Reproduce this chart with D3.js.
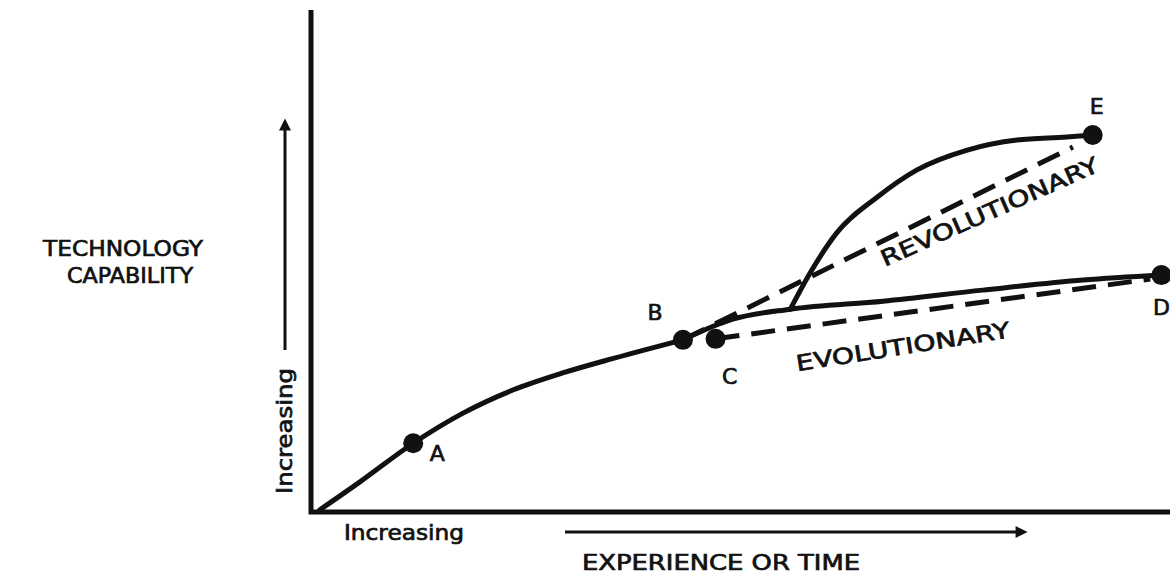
<!DOCTYPE html>
<html>
<head>
<meta charset="utf-8">
<script src="https://cdn.jsdelivr.net/npm/d3@7"></script>
<style>
    body { margin: 0; background: #fff; }
    svg { display: block; }
    text { font-family: "DejaVu Sans", sans-serif; fill: #111; stroke: #111; stroke-width: 0.7px; }
</style>
</head>
<body>
<div class="chart"></div>
<script>
// curve (x = experience/time, y = capability, both 0..100)
const baseX = [1.0, 5.7, 11.9, 17.7, 23.5, 29.3, 35.2, 43.3];
const baseY = [0.4, 6.0, 13.7, 19.7, 24.3, 27.7, 30.6, 34.3];

const evoX = [43.3, 49.1, 55.8, 66.6, 78.2, 89.9, 99.0];
const evoY = [34.3, 38.4, 40.4, 42.0, 44.2, 46.2, 47.2];

const revX = [55.8, 58.1, 61.2, 65.9, 70.5, 76.4, 82.2, 88.0, 91.0];
const revY = [40.4, 47.6, 55.6, 62.7, 68.1, 72.1, 74.1, 74.7, 75.1];

// dashed trend lines (start, end)
const revTrendX = [43.3, 88.7];
const revTrendY = [34.3, 72.7];
const evoTrendX = [47.1, 97.7];
const evoTrendY = [34.5, 46.4];

const pointNames = ["A", "B", "C", "D", "E"];
const pointX = [11.9, 43.3, 47.1, 99.0, 91.0];
const pointY = [13.7, 34.3, 34.5, 47.2, 75.1];

const trendLabels = ["REVOLUTIONARY", "EVOLUTIONARY"];
const trendLabelX = [79.0, 68.9];
const trendLabelY = [59.8, 32.9];

const width = 1170;
const height = 576;

const xScale = d3.scaleLinear().domain([0, 100]).range([311, 1170]);
const yScale = d3.scaleLinear().domain([0, 100]).range([512, 10]);

const zip = (xs, ys) => xs.map((x, i) => [x, ys[i]]);

const svg = d3.select(".chart").append("svg")
    .attr("width", width)
    .attr("height", height);

/* axes, drawn as plain bold lines like the original */
svg.append("path")
    .attr("d", `M${xScale(0)},${yScale(100)} V${yScale(0)} H${xScale(100)}`)
    .attr("fill", "none")
    .attr("stroke", "#111")
    .attr("stroke-width", 5)
    .attr("stroke-linejoin", "miter");

const line = d3.line()
    .x(d => xScale(d[0]))
    .y(d => yScale(d[1]))
    .curve(d3.curveMonotoneX);

const solid = [zip(baseX, baseY), zip(evoX, evoY), zip(revX, revY)];
svg.selectAll(".curve")
    .data(solid).enter()
    .append("path")
    .attr("class", "curve")
    .attr("d", line)
    .attr("fill", "none")
    .attr("stroke", "#111")
    .attr("stroke-width", 5)
    .attr("stroke-linecap", "round");

const dashed = [zip(revTrendX, revTrendY), zip(evoTrendX, evoTrendY)];
svg.selectAll(".trend")
    .data(dashed).enter()
    .append("path")
    .attr("class", "trend")
    .attr("d", d3.line().x(d => xScale(d[0])).y(d => yScale(d[1])))
    .attr("fill", "none")
    .attr("stroke", "#111")
    .attr("stroke-width", 5)
    .attr("stroke-dasharray", "24 12");

/* points + letters */
const labelOffset = {A: [24, 10], B: [-28, -27], C: [14, 38], D: [0, 32], E: [4, -28]};

const pts = svg.selectAll(".pt")
    .data(pointNames).enter()
    .append("g")
    .attr("class", "pt");

pts.append("circle")
    .attr("cx", (d, i) => xScale(pointX[i]))
    .attr("cy", (d, i) => yScale(pointY[i]))
    .attr("r", 10)
    .attr("fill", "#111");

pts.append("text")
    .attr("x", (d, i) => xScale(pointX[i]) + labelOffset[d][0])
    .attr("y", (d, i) => yScale(pointY[i]) + labelOffset[d][1])
    .attr("text-anchor", "middle")
    .attr("dominant-baseline", "central")
    .style("font-size", "22px")
    .text(d => d);

/* slanted labels along the trend lines */
const slant = [-24, -9];
const slantLength = [236, 216];
svg.selectAll(".trend-label")
    .data(trendLabels).enter()
    .append("text")
    .attr("class", "trend-label")
    .attr("transform", (d, i) => `translate(${xScale(trendLabelX[i])},${yScale(trendLabelY[i])}) rotate(${slant[i]})`)
    .attr("text-anchor", "middle")
    .attr("dominant-baseline", "central")
    .attr("textLength", (d, i) => slantLength[i])
    .attr("lengthAdjust", "spacingAndGlyphs")
    .style("font-size", "22px")
    .text(d => d);

/* axis titles */
svg.append("text")
    .attr("x", 123).attr("y", 256)
    .attr("text-anchor", "middle")
    .attr("textLength", 160).attr("lengthAdjust", "spacingAndGlyphs")
    .style("font-size", "21px")
    .text("TECHNOLOGY");

svg.append("text")
    .attr("x", 130).attr("y", 283)
    .attr("text-anchor", "middle")
    .attr("textLength", 126).attr("lengthAdjust", "spacingAndGlyphs")
    .style("font-size", "21px")
    .text("CAPABILITY");

svg.append("text")
    .attr("x", 344).attr("y", 540)
    .attr("textLength", 120).attr("lengthAdjust", "spacingAndGlyphs")
    .style("font-size", "21px")
    .text("Increasing");

svg.append("text")
    .attr("transform", "translate(292,431) rotate(-90)")
    .attr("text-anchor", "middle")
    .attr("textLength", 126).attr("lengthAdjust", "spacingAndGlyphs")
    .style("font-size", "21px")
    .text("Increasing");

svg.append("text")
    .attr("x", 582).attr("y", 570)
    .attr("textLength", 278).attr("lengthAdjust", "spacingAndGlyphs")
    .style("font-size", "21px")
    .text("EXPERIENCE OR TIME");

/* direction arrows */
svg.append("defs").append("marker")
    .attr("id", "head")
    .attr("viewBox", "0 0 10 10")
    .attr("refX", 2).attr("refY", 5)
    .attr("markerWidth", 6).attr("markerHeight", 4)
    .attr("markerUnits", "strokeWidth")
    .attr("orient", "auto")
    .append("path")
    .attr("d", "M0,0 L10,5 L0,10 Z")
    .attr("fill", "#111");

svg.append("line")
    .attr("x1", 285).attr("y1", 350)
    .attr("x2", 285).attr("y2", 128)
    .attr("stroke", "#111").attr("stroke-width", 3)
    .attr("marker-end", "url(#head)");

svg.append("line")
    .attr("x1", 565).attr("y1", 532)
    .attr("x2", 1018).attr("y2", 532)
    .attr("stroke", "#111").attr("stroke-width", 3)
    .attr("marker-end", "url(#head)");
</script>
</body>
</html>
